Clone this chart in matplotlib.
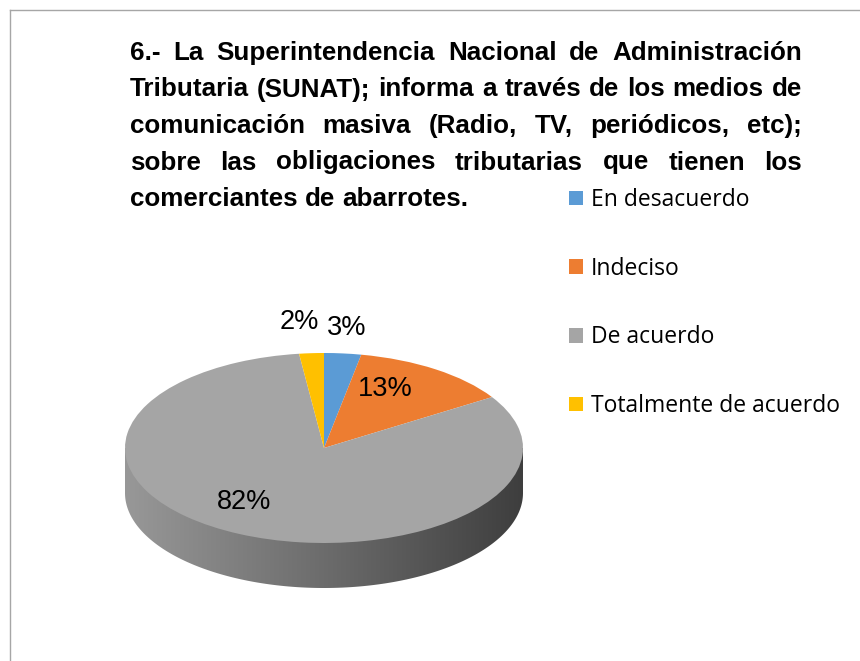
import matplotlib
matplotlib.use('Agg')
import matplotlib.pyplot as plt
import numpy as np
from matplotlib.patches import Patch, Polygon
from matplotlib.colors import LinearSegmentedColormap

# data
categories = ['En desacuerdo', 'Indeciso', 'De acuerdo', 'Totalmente de acuerdo']
percentages = [3, 13, 82, 2]
colors = ['#5b9bd5', '#ed7d31', '#a5a5a5', '#ffc000']

title_lines = [
    '6.- La Superintendencia Nacional de Administración',
    'Tributaria (SUNAT); informa a través de los medios de',
    'comunicación masiva (Radio, TV, periódicos, etc);',
    'sobre las obligaciones tributarias que tienen los',
    'comerciantes de abarrotes.',
]

# layout (pixels)
W, H = 860, 661
cx, cy, a, b, depth = 324, 448, 199, 95, 45
# label centres in pie units (x / a, y / b)
label_xy = [(0.116, 1.263), (0.307, 0.621), (-0.402, -0.568), (-0.123, 1.326)]

fig = plt.figure(figsize=(W / 100, H / 100), dpi=100)
bg = fig.add_axes([0, 0, 1, 1])
bg.set_xlim(0, W)
bg.set_ylim(H, 0)
bg.axis('off')

# frame of the chart area (cropped)
bg.plot([9.5, W], [9.5, 9.5], color='#a6a6a6', lw=1)
bg.plot([9.5, 9.5], [9.5, H], color='#a6a6a6', lw=1)

# justified title
tfont = dict(family=['Liberation Sans', 'DejaVu Sans'], fontsize=18.7, fontweight='bold')
x0, x1, y0, dy = 130, 802, 60, 36.5
fig.canvas.draw()
r = fig.canvas.get_renderer()
for i, line in enumerate(title_lines):
    words = line.split(' ')
    ts = [bg.text(0, y0 + i * dy, w, ha='left', va='baseline', color='black', **tfont) for w in words]
    widths = [t.get_window_extent(renderer=r).width for t in ts]
    if i < len(title_lines) - 1:
        gap = (x1 - x0 - sum(widths)) / (len(words) - 1)
    else:
        sp = bg.text(0, 0, 'a a', **tfont)
        sp2 = bg.text(0, 0, 'aa', **tfont)
        gap = sp.get_window_extent(renderer=r).width - sp2.get_window_extent(renderer=r).width
        sp.remove()
        sp2.remove()
    x = x0
    for t, w in zip(ts, widths):
        t.set_x(x)
        x += w + gap

# pie
d = depth / b
ax = fig.add_axes([(cx - a) / W, (H - (cy + b + depth)) / H, 2 * a / W, (2 * b + depth) / H])
wedges, texts = ax.pie(percentages, colors=colors, startangle=90, counterclock=False,
                       labels=[f'{p}%' for p in percentages],
                       wedgeprops=dict(linewidth=0),
                       textprops=dict(family=['Liberation Sans', 'DejaVu Sans'],
                                      fontsize=19.5, color='black'))
for w in wedges:
    w.set_zorder(2)
for t, (lx, ly) in zip(texts, label_xy):
    t.set_position((lx, ly))
    t.set_ha('center')
    t.set_va('center')

# side of the 3D pie
tt = np.linspace(np.pi, 2 * np.pi, 300)
pts = [(-1, 0)] + list(zip(np.cos(tt), np.sin(tt) - d)) + [(1, 0)]
side = Polygon(pts, closed=True, facecolor='none', edgecolor='none')
ax.add_patch(side)
cmap = LinearSegmentedColormap.from_list('side', ['#989898', '#6c6c6c', '#3e3e3e'])
grad = np.linspace(0, 1, 256)[None, :]
im = ax.imshow(grad, extent=[-1, 1, -1 - d, 0], cmap=cmap, aspect='auto',
               interpolation='bicubic', zorder=1)
im.set_clip_path(side)

ax.set_aspect('auto')
ax.set_xlim(-1, 1)
ax.set_ylim(-1 - d, 1)
ax.axis('off')

# legend
handles = [Patch(facecolor=c, edgecolor='none') for c in colors]
fig.legend(handles, categories, loc='upper left',
           bbox_to_anchor=(569 / W, 1 - 188 / H), frameon=False,
           prop=dict(family=['Open Sans', 'DejaVu Sans'], size=16.5),
           handlelength=0.6, handleheight=0.6, handletextpad=0.35,
           labelspacing=1.95, borderpad=0, borderaxespad=0)

fig.savefig('out.png', dpi=100)
